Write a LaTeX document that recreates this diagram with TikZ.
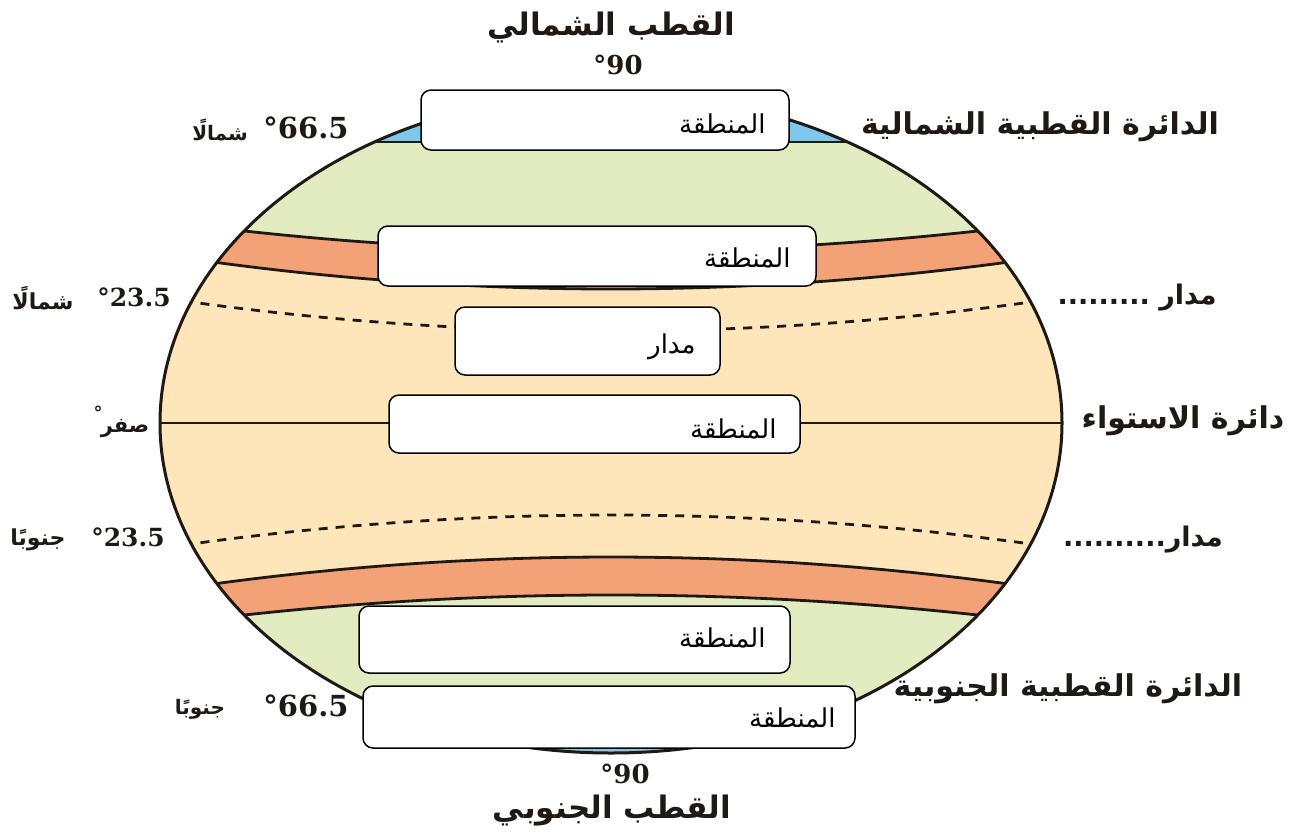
\documentclass[tikz,border=0pt]{standalone}
\usepackage{fontspec}
\TeXXeTstate=1
\newfontfamily\arabicfont[Script=Arabic]{DejaVu Sans}
\newfontfamily\numfont{DejaVu Serif}
\newcommand\artxt[1]{{\arabicfont\beginR #1\endR}}
\definecolor{polarc}{RGB}{125,200,235}
\definecolor{temperc}{RGB}{226,236,192}
\definecolor{subtropc}{RGB}{243,162,120}
\definecolor{tropc}{RGB}{254,230,186}
\definecolor{inkc}{RGB}{30,25,20}
\begin{document}
\begin{tikzpicture}[x=1pt,y=-1pt,
  zonebox/.style={draw=black, fill=white, rounded corners=10pt, line width=1.5pt, inner sep=0pt},
  zonetext/.style={inner sep=0pt, anchor=east, font=\fontsize{26}{30}\selectfont},
  bigar/.style={inner sep=0pt, text=inkc, font=\bfseries\fontsize{27}{32}\selectfont},
  smallar/.style={inner sep=0pt, text=inkc, font=\bfseries\fontsize{20}{24}\selectfont},
  numlab/.style={inner sep=0pt, text=inkc, font=\numfont\bfseries\fontsize{29}{32}\selectfont},
  bandline/.style={line width=2.8pt, draw=inkc},
  tropline/.style={line width=2.8pt, draw=inkc, dash pattern=on 9pt off 8pt}]
\useasboundingbox (0,0) rectangle (1311,839);

% globe interior
\begin{scope}
  \clip (611,423) ellipse [x radius=451, y radius=330];
  \fill[tropc] (150,80) rectangle (1070,770);
  % north
  \fill[polarc] (150,80) rectangle (1070,142);
  \fill[temperc] (150,142) -- (1070,142) -- plot[domain=1070:150,samples=60] (\x,{251-1.488*((\x-611)/100)^2}) -- cycle;
  \fill[subtropc] plot[domain=150:1070,samples=60] (\x,{251-1.488*((\x-611)/100)^2}) -- plot[domain=1070:150,samples=60] (\x,{289-1.705*((\x-611)/100)^2}) -- cycle;
  % south
  \fill[polarc] (150,704) rectangle (1070,770);
  \fill[temperc] (150,704) -- (1070,704) -- plot[domain=1070:150,samples=60] (\x,{595+1.488*((\x-611)/100)^2}) -- cycle;
  \fill[subtropc] plot[domain=150:1070,samples=60] (\x,{595+1.488*((\x-611)/100)^2}) -- plot[domain=1070:150,samples=60] (\x,{557+1.705*((\x-611)/100)^2}) -- cycle;
  % lines
  \draw[bandline] (150,142) -- (1070,142);
  \draw[bandline] (150,704) -- (1070,704);
  \draw[bandline] plot[domain=150:1070,samples=60] (\x,{251-1.488*((\x-611)/100)^2});
  \draw[bandline] plot[domain=150:1070,samples=60] (\x,{289-1.705*((\x-611)/100)^2});
  \draw[bandline] plot[domain=150:1070,samples=60] (\x,{595+1.488*((\x-611)/100)^2});
  \draw[bandline] plot[domain=150:1070,samples=60] (\x,{557+1.705*((\x-611)/100)^2});
  \draw[tropline] plot[domain=150:1070,samples=60] (\x,{331-1.644*((\x-611)/100)^2});
  \draw[tropline] plot[domain=150:1070,samples=60] (\x,{515+1.644*((\x-611)/100)^2});
  \draw[line width=1.6pt, draw=inkc] (150,423) -- (1070,423);
\end{scope}
\draw[line width=3pt, draw=inkc] (611,423) ellipse [x radius=451, y radius=330];

% boxes
\node[zonebox, minimum width=368, minimum height=60] (b1) at (605,120) {};
\node[zonebox, minimum width=438, minimum height=60] (b2) at (597,256) {};
\node[zonebox, minimum width=265, minimum height=68] (b3) at (587.5,341) {};
\node[zonebox, minimum width=411, minimum height=58] (b4) at (594.5,424) {};
\node[zonebox, minimum width=431, minimum height=67] (b5) at (574.5,639.5) {};
\node[zonebox, minimum width=492, minimum height=62] (b6) at (609,717) {};

\node[zonetext] (t1) at ([xshift=-24pt,yshift=-4pt]b1.east) {\artxt{المنطقة}};
\node[zonetext] (t2) at ([xshift=-26pt,yshift=-2pt]b2.east) {\artxt{المنطقة}};
\node[zonetext] (t3) at ([xshift=-25pt,yshift=-6pt]b3.east) {\artxt{مدار}};
\node[zonetext] (t4) at ([xshift=-24pt,yshift=-5pt]b4.east) {\artxt{المنطقة}};
\node[zonetext] (t5) at ([xshift=-25pt,yshift=2pt]b5.east) {\artxt{المنطقة}};
\node[zonetext] (t6) at ([xshift=-20pt,yshift=-1pt]b6.east) {\artxt{المنطقة}};

% outer labels
\node[bigar, font=\bfseries\fontsize{31}{34}\selectfont] (np) at (611,28) {\artxt{القطب الشمالي}};
\node[numlab, font=\numfont\bfseries\fontsize{26}{30}\selectfont] (n90a) at (618,65) {°90};
\node[numlab] (n665a) at (306,128) {°66.5};
\node[smallar] (w665a) at (220,130) {\artxt{شمالًا}};
\node[bigar, font=\bfseries\fontsize{30}{34}\selectfont] (rac) at (1040,127) {\artxt{الدائرة القطبية الشمالية}};
\node[numlab, font=\numfont\bfseries\fontsize{25}{28}\selectfont] (n235a) at (134,297) {°23.5};
\node[smallar, font=\bfseries\fontsize{22}{26}\selectfont] (w235a) at (43,298) {\artxt{شمالًا}};
\node[bigar] (rtn) at (1137,298) {\artxt{مدار .........}};
\node[smallar, font=\bfseries\fontsize{21}{24}\selectfont] (zero) at (125,428) {\artxt{صفر}};
\node[numlab, font=\numfont\bfseries\fontsize{18}{20}\selectfont] (zdeg) at (98,413) {°};
\node[bigar, font=\bfseries\fontsize{30}{34}\selectfont] (req) at (1183,421) {\artxt{دائرة الاستواء}};
\node[numlab, font=\numfont\bfseries\fontsize{25}{28}\selectfont] (n235b) at (128,537) {°23.5};
\node[smallar, font=\bfseries\fontsize{22}{26}\selectfont] (w235b) at (38,540) {\artxt{جنوبًا}};
\node[bigar] (rts) at (1143,540) {\artxt{مدار..........}};
\node[numlab] (n665b) at (306,706) {°66.5};
\node[smallar] (w665b) at (200,709) {\artxt{جنوبًا}};
\node[bigar, font=\bfseries\fontsize{30}{34}\selectfont] (rant) at (1068,689) {\artxt{الدائرة القطبية الجنوبية}};
\node[numlab, font=\numfont\bfseries\fontsize{26}{30}\selectfont] (n90b) at (625,774) {°90};
\node[bigar, font=\bfseries\fontsize{31}{34}\selectfont] (sp) at (612,810) {\artxt{القطب الجنوبي}};
\end{tikzpicture}
\end{document}
